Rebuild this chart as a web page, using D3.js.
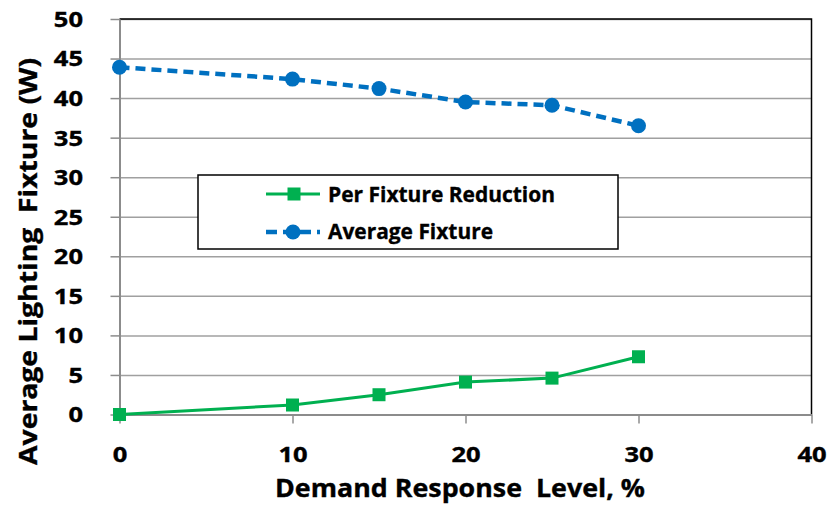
<!DOCTYPE html>
<html>
<head>
<meta charset="utf-8">
<script src="https://cdn.jsdelivr.net/npm/d3@7"></script>
<style>
  html, body { margin: 0; padding: 0; background: #fff; }
  svg { display: block; }
  text { font-family: "Open Sans", Lato, sans-serif; font-weight: bold; fill: #000;
         stroke: #000; stroke-width: 0.35px; }
</style>
</head>
<body>
<svg id="chart" width="828" height="512"></svg>
<script>
// Demand response level (%) on the x axis
const levels = [0, 10, 15, 20, 25, 30];
// Watts saved per fixture at each level
const perFixtureReduction = [0, 1.2, 2.5, 4.1, 4.6, 7.3];
// Average fixture wattage at each level
const averageFixture = [43.9, 42.4, 41.2, 39.5, 39.1, 36.5];

const xTicks = [0, 10, 20, 30, 40];
const yTicks = [0, 5, 10, 15, 20, 25, 30, 35, 40, 45, 50];

const seriesNames = ["Per Fixture Reduction", "Average Fixture"];
const xTitle = "Demand Response  Level, %";
const yTitle = "Average Lighting  Fixture (W)";

const GREEN = "#00B050";
const BLUE = "#0070C0";
const GRID = "#a0a0a0";
const AXIS = "#8c8c8c";

const svg = d3.select("#chart");
const plotL = 119.5, plotR = 811.5, plotT = 19, plotB = 414.5;

const x = d3.scaleLinear().domain([0, 40]).range([plotL, plotR]);
const y = d3.scaleLinear().domain([0, 50]).range([plotB, plotT]);

// Stretch a text run to a set width (wide bold face)
const fit = (sel, w) => sel.attr("textLength", w).attr("lengthAdjust", "spacingAndGlyphs");
const DIGIT_W = 14.6;

// Horizontal gridlines
svg.append("g")
  .attr("transform", `translate(${plotL},0)`)
  .call(d3.axisLeft(y).tickValues(yTicks).tickSize(-(plotR - plotL)).tickFormat(""))
  .call(g => g.select(".domain").remove())
  .call(g => g.selectAll("line").attr("stroke", GRID).attr("stroke-width", 1.5));

// Plot border (top and right in black)
svg.append("path")
  .attr("d", `M${plotL},${plotT}H${plotR}V${plotB}`)
  .attr("fill", "none").attr("stroke", "#000").attr("stroke-width", 1.5);

// Y axis
const yAxis = svg.append("g")
  .attr("transform", `translate(${plotL},0)`)
  .call(d3.axisLeft(y).tickValues(yTicks).tickSize(9).tickPadding(27.5).tickSizeOuter(0));
yAxis.attr("font-family", null).attr("font-size", null);
yAxis.select(".domain").attr("stroke", AXIS).attr("stroke-width", 2);
yAxis.selectAll(".tick line").attr("stroke", AXIS).attr("stroke-width", 1.5);
yAxis.selectAll(".tick text").attr("font-size", 20.5).attr("dy", "0.36em")
  .each(function(d) { fit(d3.select(this), String(d).length * DIGIT_W); });

// X axis
const xAxis = svg.append("g")
  .attr("transform", `translate(0,${plotB})`)
  .call(d3.axisBottom(x).tickValues(xTicks).tickSize(9).tickPadding(0).tickSizeOuter(0));
xAxis.attr("font-family", null).attr("font-size", null);
xAxis.select(".domain").attr("stroke", AXIS).attr("stroke-width", 2);
xAxis.selectAll(".tick line").attr("stroke", AXIS).attr("stroke-width", 1.5);
xAxis.selectAll(".tick text").attr("font-size", 20.5).attr("y", 462 - plotB).attr("dy", null)
  .each(function(d) { fit(d3.select(this), String(d).length * DIGIT_W); });

// Axis titles
fit(svg.append("text")
  .attr("x", 460).attr("y", 497)
  .attr("text-anchor", "middle").attr("font-size", 25)
  .style("white-space", "pre")
  .text(xTitle), 370);

fit(svg.append("text")
  .attr("transform", "translate(37,261.5) rotate(-90)")
  .attr("text-anchor", "middle").attr("font-size", 25)
  .style("white-space", "pre")
  .text(yTitle), 407);

// Series lines
const pts = vals => levels.map((l, i) => [x(l), y(vals[i])]);
const line = d3.line();

svg.append("path")
  .attr("d", line(pts(perFixtureReduction)))
  .attr("fill", "none").attr("stroke", GREEN).attr("stroke-width", 3);

svg.append("path")
  .attr("d", line(pts(averageFixture)))
  .attr("fill", "none").attr("stroke", BLUE).attr("stroke-width", 4.5)
  .attr("stroke-dasharray", "10,6");

// Markers
svg.append("g").selectAll("rect")
  .data(pts(perFixtureReduction)).join("rect")
  .attr("x", d => d[0] - 6.5).attr("y", d => d[1] - 6.5)
  .attr("width", 13).attr("height", 13).attr("fill", GREEN);

svg.append("g").selectAll("circle")
  .data(pts(averageFixture)).join("circle")
  .attr("cx", d => d[0]).attr("cy", d => d[1]).attr("r", 7.5).attr("fill", BLUE);

// Legend
const legend = svg.append("g");
legend.append("rect")
  .attr("x", 198).attr("y", 175).attr("width", 420).attr("height", 74)
  .attr("fill", "#fff").attr("stroke", "#000").attr("stroke-width", 1.5);

const rows = [194, 232];
// Per Fixture Reduction sample
legend.append("line")
  .attr("x1", 266).attr("x2", 320).attr("y1", rows[0]).attr("y2", rows[0])
  .attr("stroke", GREEN).attr("stroke-width", 3);
legend.append("rect")
  .attr("x", 294 - 6.5).attr("y", rows[0] - 6.5).attr("width", 13).attr("height", 13)
  .attr("fill", GREEN);
// Average Fixture sample
legend.append("line")
  .attr("x1", 266).attr("x2", 320).attr("y1", rows[1]).attr("y2", rows[1])
  .attr("stroke", BLUE).attr("stroke-width", 4.5).attr("stroke-dasharray", "11,6");
legend.append("circle")
  .attr("cx", 293).attr("cy", rows[1]).attr("r", 7.5).attr("fill", BLUE);

const legendWidths = [227, 165];
const legendBase = [202, 239];
legend.selectAll("text.lbl")
  .data(seriesNames).join("text")
  .attr("class", "lbl")
  .attr("x", 328).attr("y", (d, i) => legendBase[i])
  .attr("font-size", 21)
  .attr("textLength", (d, i) => legendWidths[i])
  .attr("lengthAdjust", "spacingAndGlyphs")
  .text(d => d);
</script>
</body>
</html>
